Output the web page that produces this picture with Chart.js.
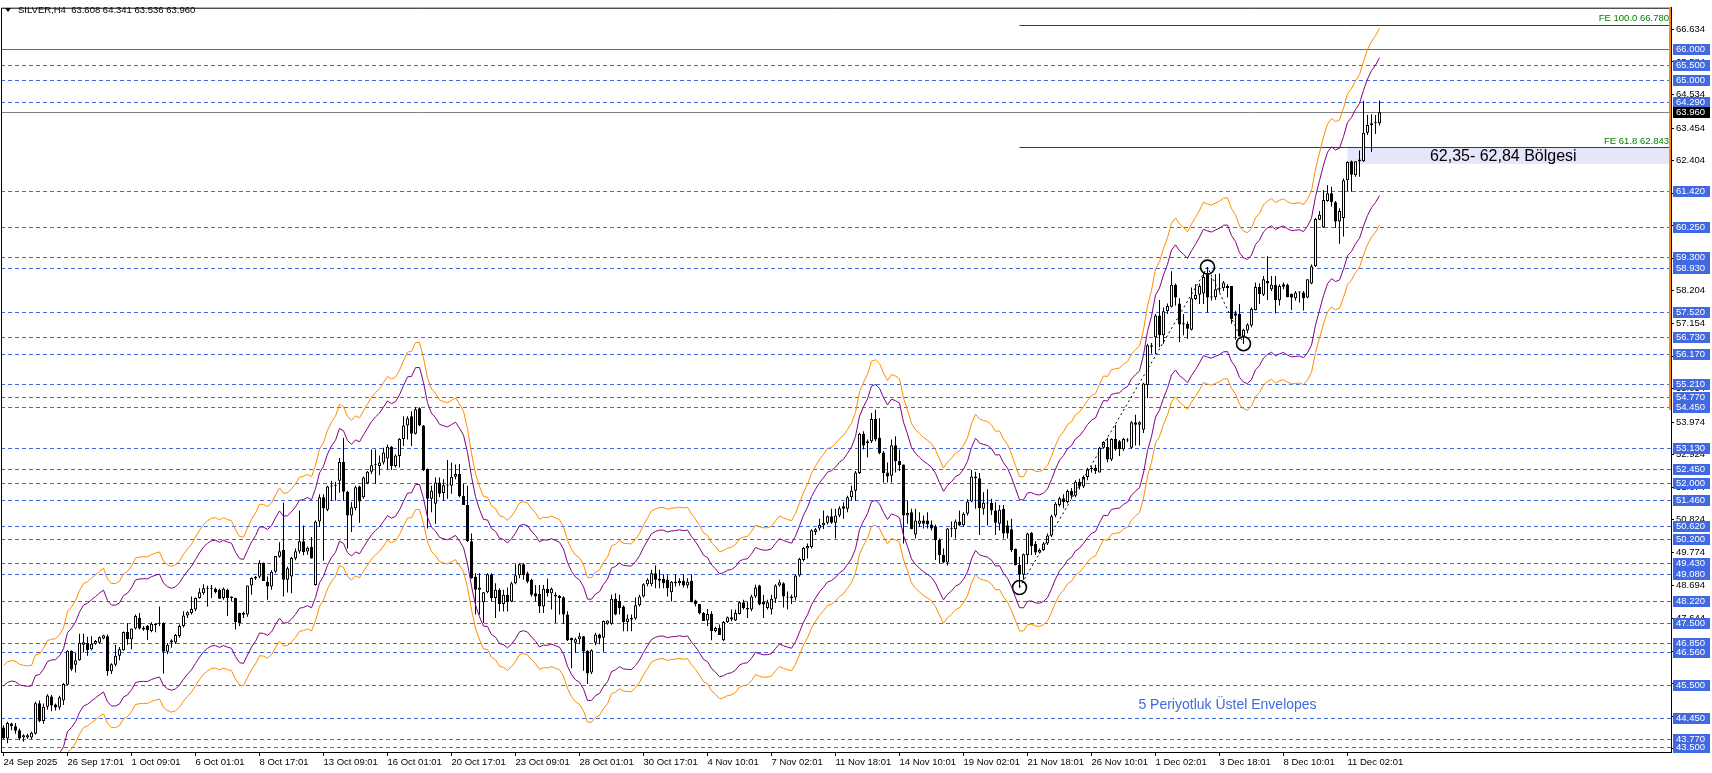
<!DOCTYPE html>
<html>
<head>
<meta charset="utf-8">
<script src="https://cdn.jsdelivr.net/npm/chart.js@4.4.1/dist/chart.umd.min.js"></script>
<style>
  html, body { margin: 0; padding: 0; background: #fff; }
  canvas { display: block; }
</style>
</head>
<body>
<canvas id="silverChart" width="1712" height="773"></canvas>
<script>
// SILVER H4 candles, bar 0 = 24 Sep 2025
const opens = [
  44.13, 43.77, 44.26, 44.17, 44.04, 43.81, 43.81, 43.81, 43.93, 44.91,
  44.34, 44.80, 45.13, 44.87, 44.77, 45.00, 45.51, 46.60, 46.15, 46.30,
  46.80, 46.86, 46.65, 46.83, 46.86, 47.00, 47.07, 45.94, 46.15, 46.44,
  46.62, 47.21, 46.97, 47.32, 47.66, 47.35, 47.40, 47.24, 47.43, 47.47,
  47.50, 46.57, 46.94, 46.87, 47.08, 47.40, 47.74, 47.82, 47.93, 48.30,
  48.46, 48.62, 48.60, 48.60, 48.56, 48.30, 48.56, 48.35, 48.30, 47.82,
  47.76, 47.77, 48.71, 48.93, 48.99, 49.44, 48.83, 48.67, 49.15, 49.63,
  49.85, 48.89, 49.00, 49.58, 49.80, 50.13, 49.80, 49.95, 48.72, 50.77,
  51.55, 51.15, 51.90, 51.92, 52.08, 52.69, 51.73, 50.96, 51.20, 51.90,
  51.55, 52.00, 52.37, 52.58, 52.56, 52.67, 52.80, 53.18, 52.56, 52.88,
  53.43, 53.86, 54.16, 53.60, 54.42, 53.86, 52.47, 51.50, 51.34, 52.03,
  51.69, 51.94, 51.92, 52.21, 52.30, 51.60, 51.30, 50.13, 48.99, 48.57,
  48.17, 48.49, 49.07, 48.30, 48.57, 48.11, 48.41, 48.19, 48.78, 49.04,
  49.39, 49.10, 48.89, 48.46, 48.43, 48.03, 48.60, 48.46, 48.41, 48.37,
  48.33, 47.77, 47.02, 46.86, 46.97, 47.07, 46.60, 45.90, 46.86, 47.13,
  47.02, 47.47, 47.47, 48.28, 48.21, 48.03, 47.53, 47.61, 47.64, 48.07,
  48.35, 48.75, 48.75, 49.10, 48.92, 48.92, 48.89, 48.49, 48.83, 48.78,
  48.86, 48.71, 48.86, 48.22, 48.11, 47.82, 47.58, 47.79, 47.24, 47.34,
  46.94, 47.53, 47.68, 47.58, 47.79, 48.17, 47.98, 47.93, 48.35, 48.71,
  48.19, 47.98, 47.93, 48.28, 48.71, 48.78, 48.35, 48.35, 48.32, 49.03,
  49.53, 49.90, 49.95, 50.43, 50.54, 50.65, 50.73, 50.94, 50.73, 50.96,
  51.26, 51.18, 51.55, 51.76, 52.33, 53.60, 53.30, 53.36, 54.07, 53.47,
  52.99, 52.35, 52.24, 53.23, 52.72, 52.61, 50.96, 51.07, 50.35, 50.70,
  50.80, 50.80, 50.67, 50.62, 50.17, 49.69, 49.45, 50.54, 50.52, 50.77,
  50.65, 51.02, 51.41, 52.16, 52.16, 51.18, 51.37, 51.37, 51.12, 50.70,
  51.18, 50.65, 50.52, 49.88, 49.37, 49.05, 49.69, 50.41, 50.05, 49.77,
  49.85, 50.06, 50.32, 50.96, 51.30, 51.52, 51.40, 51.75, 51.60, 52.05,
  51.90, 52.20, 52.45, 52.50, 52.35, 53.15, 53.17, 52.77, 53.43, 53.36,
  53.10, 53.38, 53.15, 53.97, 53.89, 53.73, 55.17, 56.45, 56.71, 57.41,
  56.77, 57.55, 57.69, 58.40, 57.80, 57.12, 57.14, 56.95, 57.94, 58.08,
  58.12, 58.74, 57.99, 58.00, 58.26, 58.29, 58.36, 58.36, 57.48, 57.46,
  56.73, 56.93, 57.09, 57.59, 58.33, 58.08, 58.52, 58.26, 58.40, 57.90,
  58.42, 58.40, 58.10, 57.97, 58.15, 58.15, 57.99, 58.44, 59.00, 60.50,
  60.25, 61.10, 61.35, 61.06, 60.44, 60.55, 61.77, 62.38, 61.93, 62.38,
  62.38, 63.30, 63.55, 63.61, 63.608
];
const highs = [
  44.20, 44.31, 44.28, 44.27, 44.10, 43.91, 43.93, 43.99, 44.96, 45.00,
  44.90, 45.20, 45.18, 44.90, 45.15, 45.56, 46.62, 46.62, 46.55, 47.15,
  47.15, 47.05, 47.07, 46.95, 47.07, 47.12, 47.13, 46.20, 46.80, 46.72,
  47.22, 47.50, 47.32, 47.77, 47.82, 47.40, 47.43, 47.52, 47.50, 48.03,
  47.52, 46.85, 46.97, 47.14, 47.45, 47.88, 47.88, 48.35, 48.32, 48.62,
  48.75, 48.70, 48.72, 48.64, 48.60, 48.64, 48.60, 48.36, 48.31, 47.83,
  47.86, 48.71, 48.97, 49.01, 49.52, 49.45, 49.00, 49.20, 49.66, 50.10,
  51.37, 49.31, 49.63, 49.90, 51.12, 50.64, 49.96, 50.27, 50.80, 51.65,
  51.65, 51.92, 52.08, 52.05, 52.82, 53.47, 51.76, 51.39, 51.92, 51.92,
  52.22, 52.40, 53.09, 53.09, 52.90, 53.15, 53.25, 53.20, 52.94, 53.46,
  54.16, 54.16, 54.32, 54.45, 54.45, 53.88, 52.48, 51.92, 52.19, 52.19,
  52.13, 52.75, 52.67, 52.61, 52.62, 51.98, 51.92, 50.38, 49.10, 49.10,
  48.50, 49.10, 49.10, 48.78, 48.62, 48.57, 48.64, 48.83, 49.39, 49.42,
  49.42, 49.15, 48.92, 48.72, 48.72, 48.72, 48.92, 48.64, 48.49, 48.40,
  48.36, 47.88, 47.02, 47.02, 47.18, 47.08, 46.62, 46.65, 47.18, 47.15,
  47.58, 47.58, 48.41, 48.46, 48.41, 48.06, 47.77, 47.77, 48.32, 48.41,
  48.78, 48.94, 49.21, 49.35, 49.21, 49.07, 49.04, 48.85, 49.07, 48.94,
  49.07, 48.94, 49.07, 48.25, 48.11, 47.85, 47.95, 47.88, 47.38, 47.45,
  47.56, 47.71, 47.93, 47.93, 48.19, 48.25, 48.19, 48.41, 48.73, 48.73,
  48.41, 48.25, 48.41, 48.75, 48.89, 48.81, 48.51, 48.41, 49.07, 49.60,
  49.95, 50.06, 50.52, 50.56, 50.86, 51.12, 50.96, 51.18, 51.18, 51.26,
  51.39, 51.60, 51.92, 52.40, 53.63, 53.68, 53.41, 54.27, 54.37, 54.10,
  53.04, 52.67, 53.41, 53.52, 53.09, 52.61, 51.44, 51.18, 51.18, 51.07,
  50.96, 51.07, 50.80, 50.67, 50.22, 49.90, 50.56, 50.77, 50.83, 51.12,
  51.07, 51.49, 52.43, 52.37, 52.33, 51.71, 51.81, 51.50, 51.39, 51.30,
  51.30, 50.80, 50.86, 49.90, 49.63, 49.74, 50.41, 50.43, 50.13, 49.90,
  50.11, 50.38, 50.99, 51.39, 51.57, 51.65, 51.80, 51.85, 52.10, 52.15,
  52.25, 52.50, 52.55, 52.60, 53.18, 53.36, 53.47, 53.45, 53.89, 53.40,
  53.47, 53.45, 54.00, 54.21, 54.00, 55.24, 56.50, 56.52, 57.46, 57.91,
  57.67, 57.80, 58.84, 58.44, 57.97, 57.46, 57.22, 58.31, 58.42, 58.44,
  58.79, 58.97, 58.63, 58.74, 58.76, 58.52, 58.42, 58.36, 57.56, 57.78,
  56.98, 57.16, 57.67, 58.47, 58.44, 58.68, 59.32, 58.68, 58.68, 58.42,
  58.47, 58.44, 58.12, 58.20, 58.18, 58.20, 58.58, 59.05, 60.55, 60.78,
  61.45, 61.61, 61.56, 61.10, 60.87, 61.83, 62.38, 62.41, 62.38, 62.73,
  64.33, 63.87, 63.90, 63.87, 64.341
];
const lows = [
  43.74, 43.62, 44.04, 43.93, 43.72, 43.67, 43.76, 43.75, 43.90, 44.30,
  44.25, 44.70, 44.65, 44.68, 44.70, 44.85, 45.50, 45.95, 45.90, 46.28,
  46.55, 46.44, 46.62, 46.80, 46.83, 46.97, 45.80, 45.85, 46.10, 46.30,
  46.60, 46.80, 46.65, 47.29, 47.29, 47.25, 46.95, 47.20, 47.20, 47.40,
  45.87, 46.50, 46.70, 46.82, 47.02, 47.35, 47.66, 47.77, 47.88, 48.28,
  48.41, 48.03, 48.30, 48.45, 48.28, 48.25, 47.72, 48.19, 47.29, 47.40,
  47.66, 47.70, 48.41, 48.88, 48.94, 48.85, 48.25, 48.57, 49.10, 49.60,
  48.35, 48.48, 48.46, 49.52, 49.74, 49.68, 49.70, 49.58, 48.70, 50.60,
  49.50, 51.10, 51.44, 51.44, 51.70, 51.44, 49.90, 50.43, 51.12, 50.73,
  51.50, 51.97, 52.30, 51.98, 52.26, 52.61, 52.45, 52.43, 52.51, 52.51,
  53.20, 53.41, 53.20, 53.57, 53.84, 52.40, 50.54, 51.07, 50.70, 51.55,
  51.44, 51.50, 51.66, 52.13, 51.55, 51.30, 50.11, 48.92, 47.77, 47.77,
  47.50, 48.46, 48.19, 47.66, 47.87, 47.87, 47.87, 48.17, 48.75, 48.94,
  48.89, 48.78, 48.35, 48.19, 47.82, 47.82, 48.35, 47.93, 47.50, 47.77,
  47.47, 46.92, 46.04, 46.54, 46.81, 45.96, 45.53, 45.85, 46.78, 46.81,
  46.57, 47.44, 47.44, 47.75, 47.77, 47.23, 47.23, 47.23, 47.60, 48.03,
  48.32, 48.68, 48.68, 48.62, 48.62, 48.62, 48.35, 48.19, 48.67, 48.70,
  48.64, 48.62, 48.17, 48.03, 47.77, 47.56, 47.40, 46.94, 47.20, 47.11,
  46.92, 47.50, 47.55, 47.56, 47.77, 47.93, 47.66, 47.88, 48.30, 48.07,
  47.66, 47.93, 47.77, 48.14, 48.67, 48.00, 47.93, 48.11, 48.22, 48.99,
  49.48, 49.58, 49.90, 50.33, 50.48, 50.53, 50.67, 50.70, 50.22, 50.91,
  50.86, 51.07, 51.44, 51.44, 52.30, 53.09, 52.83, 53.30, 53.36, 52.94,
  52.03, 52.03, 52.03, 52.35, 52.40, 50.06, 50.70, 50.52, 50.22, 50.59,
  50.54, 50.54, 50.48, 49.53, 49.42, 49.42, 49.35, 50.27, 50.22, 50.62,
  50.59, 50.96, 51.39, 51.18, 50.33, 50.99, 50.64, 50.98, 50.33, 50.48,
  50.22, 50.22, 49.79, 49.35, 48.64, 48.89, 49.39, 49.69, 49.69, 49.74,
  49.82, 50.01, 50.27, 50.91, 51.25, 51.20, 51.35, 51.50, 51.55, 51.80,
  51.85, 52.10, 52.35, 52.30, 52.35, 53.12, 52.68, 52.72, 53.05, 52.88,
  53.05, 53.33, 53.11, 53.22, 53.22, 53.62, 54.74, 56.18, 56.16, 56.39,
  56.50, 57.46, 57.67, 57.73, 56.55, 56.77, 56.66, 56.93, 57.91, 57.78,
  57.78, 57.51, 57.89, 57.91, 58.15, 58.20, 58.00, 57.14, 56.63, 56.73,
  56.50, 56.84, 57.03, 57.57, 57.78, 58.04, 57.91, 58.20, 57.48, 57.73,
  58.26, 58.00, 57.59, 57.89, 57.83, 57.57, 57.97, 58.42, 58.97, 60.49,
  60.23, 61.08, 60.92, 60.23, 59.72, 59.96, 61.42, 61.40, 61.88, 61.88,
  62.36, 63.23, 62.68, 63.26, 63.536
];
const closes = [
  43.78, 44.27, 44.17, 44.02, 43.77, 43.88, 43.88, 43.96, 44.91, 44.34,
  44.80, 45.16, 44.84, 44.77, 45.10, 45.53, 46.60, 46.00, 46.30, 46.86,
  46.88, 46.62, 46.83, 46.92, 47.04, 47.10, 45.94, 46.17, 46.44, 46.65,
  47.21, 46.97, 47.32, 47.72, 47.32, 47.29, 47.26, 47.47, 47.47, 47.49,
  46.57, 46.80, 46.87, 47.11, 47.40, 47.74, 47.84, 47.95, 48.30, 48.49,
  48.62, 48.60, 48.62, 48.49, 48.28, 48.60, 48.30, 48.30, 47.53, 47.50,
  47.82, 48.71, 48.95, 48.99, 49.44, 48.85, 48.67, 49.15, 49.66, 49.81,
  48.89, 49.26, 49.60, 49.81, 50.13, 49.79, 49.92, 49.58, 50.77, 51.55,
  51.20, 51.90, 51.92, 51.93, 52.69, 51.73, 50.96, 51.23, 51.87, 51.41,
  52.19, 52.37, 52.58, 52.60, 52.67, 52.99, 53.18, 52.56, 52.90, 53.43,
  53.86, 54.10, 53.60, 54.39, 53.86, 52.43, 51.50, 51.76, 52.03, 51.66,
  51.94, 51.93, 52.21, 52.30, 51.58, 51.30, 50.13, 48.94, 48.57, 48.64,
  48.49, 49.07, 48.30, 48.57, 48.11, 48.41, 48.17, 48.78, 49.04, 49.39,
  49.04, 48.83, 48.41, 48.35, 48.03, 48.60, 48.46, 48.60, 48.35, 48.30,
  47.77, 46.94, 46.94, 46.97, 47.07, 46.58, 45.87, 46.62, 47.13, 47.00,
  47.56, 47.58, 48.28, 47.77, 47.98, 47.53, 47.64, 47.66, 48.07, 48.35,
  48.75, 48.89, 49.10, 48.89, 48.86, 48.78, 48.62, 48.83, 48.78, 48.85,
  48.71, 48.83, 48.17, 48.11, 47.82, 47.56, 47.79, 47.24, 47.34, 47.11,
  47.53, 47.68, 47.61, 47.82, 48.17, 47.98, 47.93, 48.35, 48.64, 48.09,
  48.09, 48.17, 48.28, 48.71, 48.81, 48.35, 48.32, 48.30, 49.03, 49.56,
  49.92, 49.98, 50.49, 50.52, 50.66, 50.73, 50.94, 50.73, 50.96, 51.20,
  51.18, 51.55, 51.76, 52.35, 53.60, 53.22, 53.36, 54.07, 53.41, 52.97,
  52.33, 52.22, 53.23, 52.72, 52.58, 50.96, 51.04, 50.53, 50.80, 50.80,
  50.70, 50.67, 50.54, 50.17, 49.69, 49.45, 50.54, 50.52, 50.77, 50.65,
  51.02, 51.41, 52.22, 52.22, 51.20, 51.37, 51.35, 51.12, 50.73, 51.15,
  50.38, 50.38, 49.85, 49.37, 49.05, 49.71, 50.38, 49.98, 49.77, 49.85,
  50.06, 50.32, 50.94, 51.34, 51.52, 51.40, 51.75, 51.60, 52.05, 51.90,
  52.20, 52.45, 52.50, 52.40, 53.15, 53.33, 52.77, 53.43, 53.10, 53.10,
  53.43, 53.40, 53.97, 53.89, 53.97, 55.22, 56.45, 56.40, 57.41, 56.77,
  57.55, 57.72, 58.40, 57.99, 57.12, 57.16, 56.98, 57.97, 58.08, 58.36,
  58.65, 57.99, 58.00, 58.26, 58.29, 58.47, 58.30, 57.30, 57.40, 56.73,
  56.95, 57.12, 57.62, 58.33, 58.10, 58.58, 58.44, 58.40, 57.90, 58.36,
  58.34, 58.00, 57.99, 58.15, 58.17, 57.97, 58.58, 59.00, 60.52, 60.66,
  61.13, 61.35, 61.06, 60.44, 60.78, 61.77, 62.36, 61.95, 62.38, 62.44,
  63.30, 63.55, 63.61, 63.61, 63.960
];

// time axis: one label every 16 bars
const timeLabels = [
  "24 Sep 2025", "26 Sep 17:01", "1 Oct 09:01", "6 Oct 01:01", "8 Oct 17:01",
  "13 Oct 09:01", "16 Oct 01:01", "20 Oct 17:01", "23 Oct 09:01", "28 Oct 01:01",
  "30 Oct 17:01", "4 Nov 10:01", "7 Nov 02:01", "11 Nov 18:01", "14 Nov 10:01",
  "19 Nov 02:01", "21 Nov 18:01", "26 Nov 10:01", "1 Dec 02:01", "3 Dec 18:01",
  "8 Dec 10:01", "11 Dec 02:01"
];
const timeLabelStep = 16;

const priceTicks = [
  66.634, 65.584, 64.534, 63.454, 62.404, 61.354, 60.304, 59.254, 58.204, 57.154,
  56.104, 55.054, 53.974, 52.924, 51.874, 50.824, 49.774, 48.694, 47.644, 46.594,
  45.544, 44.494, 43.444
];

// horizontal levels
const dashedLevels = [
  65.50, 65.00, 64.29, 61.42, 60.25, 59.30, 58.93, 57.52, 56.73, 56.17,
  55.21, 54.77, 54.45, 53.13, 52.45, 52.00, 51.46, 50.62, 50.20, 49.43,
  49.08, 48.22, 47.50, 46.85, 46.56, 45.50, 44.45, 43.77, 43.50
];
const solidLevel = 66.00;
const lastPrice = 63.960;
const feLabels = ["FE 100.0 66.780", "FE 61.8 62.843"];
const feValues = [66.780, 62.843];
const feBars = [254, 301, 310];
const fePrices = [48.64, 58.97, 56.50];
const zoneTop = 62.84;
const zoneBottom = 62.30;
const zoneStartBar = 336;

// envelopes: EMA(5) of close, +-3.5% and +-5%
const envPeriod = 5;
const envInner = 3.5;
const envOuter = 5.0;
const emaSeed = 44.0;

const levelBlue = "#4169e1";
const feGreen = "#006400";
const axisFont = "9.5px 'Liberation Sans', Arial, sans-serif";

const idx = closes.map((_, i) => i);
const bodies = idx.map(i => ({ x: i, y: [opens[i], closes[i]] }));
const wicks = idx.map(i => ({ x: i, y: [lows[i], highs[i]] }));
const bodyFill = idx.map(i => (closes[i] >= opens[i] ? "#ffffff" : "#000000"));

const ema = [];
closes.reduce((prev, c) => {
  const v = prev + (c - prev) * 2 / (envPeriod + 1);
  ema.push(v);
  return v;
}, emaSeed);
const band = pct => ema.map((v, i) => ({ x: i, y: v * (1 + pct / 100) }));

const envLine = (data, color) => ({
  type: "line",
  data: data,
  borderColor: color,
  borderWidth: 1,
  pointRadius: 0,
  fill: false,
  tension: 0,
});

const mtObjects = {
  id: "mtObjects",
  beforeDatasetsDraw(chart) {
    const { ctx, chartArea: a, scales: { x, y } } = chart;
    ctx.save();
    ctx.beginPath();
    ctx.rect(a.left, a.top, a.right - a.left, a.bottom - a.top);
    ctx.clip();

    // zone box
    const zx = x.getPixelForValue(zoneStartBar);
    const zt = y.getPixelForValue(zoneTop);
    const zb = y.getPixelForValue(zoneBottom);
    ctx.fillStyle = "#e6e6fa";
    ctx.fillRect(zx, zt, a.right - zx, zb - zt);

    const hline = (v, color, dash, from) => {
      const py = Math.round(y.getPixelForValue(v)) + 0.5;
      ctx.strokeStyle = color;
      ctx.lineWidth = 1;
      ctx.setLineDash(dash);
      ctx.beginPath();
      ctx.moveTo(from, py);
      ctx.lineTo(a.right, py);
      ctx.stroke();
    };
    dashedLevels.forEach(v => hline(v, levelBlue, [4, 3], a.left));
    hline(solidLevel, levelBlue, [], a.left);
    hline(lastPrice, "#808080", [], a.left);
    const fx = x.getPixelForValue(feBars[0]);
    feValues.forEach(v => hline(v, feGreen, [], fx));
    ctx.restore();
  },
  afterDatasetsDraw(chart) {
    const { ctx, chartArea: a, scales: { x, y } } = chart;
    ctx.save();
    ctx.textBaseline = "middle";

    // FE labels
    ctx.font = axisFont;
    ctx.fillStyle = "#008000";
    ctx.textAlign = "right";
    feValues.forEach((v, k) => {
      ctx.fillText(feLabels[k], a.right - 2, y.getPixelForValue(v) - 6);
    });

    ctx.textAlign = "left";
    ctx.fillStyle = "#000";
    ctx.font = "16px 'Liberation Sans', Arial, sans-serif";
    ctx.fillText("62,35- 62,84 Bölgesi", x.getPixelForValue(356.6), y.getPixelForValue((zoneTop + zoneBottom) / 2) + 1);

    ctx.textAlign = "center";
    ctx.fillStyle = levelBlue;
    ctx.font = "14px 'Liberation Sans', Arial, sans-serif";
    ctx.fillText("5 Periyotluk Üstel Envelopes", x.getPixelForValue(306), y.getPixelForValue(44.84));
    ctx.restore();
  },
  afterDraw(chart) {
    const { ctx, chartArea: a, scales: { y } } = chart;
    ctx.save();
    // frame
    ctx.strokeStyle = "#000";
    ctx.lineWidth = 1;
    ctx.beginPath();
    ctx.moveTo(a.left + 0.5, a.bottom);
    ctx.lineTo(a.left + 0.5, a.top + 0.5);
    ctx.lineTo(a.right, a.top + 0.5);
    ctx.stroke();

    // orange marker at the price scale
    ctx.strokeStyle = "#ff8c00";
    ctx.lineWidth = 2;
    ctx.beginPath();
    ctx.moveTo(a.right - 1, a.top);
    ctx.lineTo(a.right - 1, 410);
    ctx.stroke();

    // price boxes
    ctx.font = axisFont;
    ctx.textBaseline = "middle";
    ctx.textAlign = "left";
    const box = (v, fill) => {
      const py = Math.round(y.getPixelForValue(v));
      ctx.fillStyle = fill;
      ctx.fillRect(a.right + 2, py - 5, 37, 11);
      ctx.fillStyle = "#fff";
      ctx.fillText(v.toFixed(3), a.right + 5, py + 0.5);
    };
    [solidLevel].concat(dashedLevels).forEach(v => box(v, levelBlue));
    box(lastPrice, "#000");

    // header
    ctx.fillStyle = "#000";
    ctx.beginPath();
    ctx.moveTo(5, 8);
    ctx.lineTo(11, 8);
    ctx.lineTo(8, 12);
    ctx.closePath();
    ctx.fill();
    ctx.fillText("SILVER,H4  63.608 64.341 63.536 63.960", 18, 10.5);
    ctx.restore();
  },
};

Chart.defaults.font.family = "'Liberation Sans', Arial, sans-serif";

let silverChart = new Chart(document.getElementById("silverChart").getContext("2d"), {
  type: "bar",
  data: {
    datasets: [
      envLine(band(envOuter), "#ff8c00"),
      envLine(band(-envOuter), "#ff8c00"),
      envLine(band(envInner), "#800080"),
      envLine(band(-envInner), "#800080"),
      {
        type: "line",
        data: feBars.map((b, k) => ({ x: b, y: fePrices[k] })),
        borderColor: "#000",
        borderWidth: 1,
        borderDash: [2, 3],
        pointRadius: 0,
        fill: false,
      },
      {
        type: "line",
        data: feBars.map((b, k) => ({ x: b, y: fePrices[k] })),
        showLine: false,
        pointRadius: 7,
        pointBorderWidth: 1.6,
        pointBorderColor: "#000",
        pointBackgroundColor: "rgba(0,0,0,0)",
      },
      {
        data: bodies,
        backgroundColor: bodyFill,
        borderColor: "#000",
        borderWidth: 1,
        borderSkipped: false,
        barThickness: 3,
        minBarLength: 1,
        inflateAmount: 0,
        grouped: false,
      },
      {
        data: wicks,
        backgroundColor: "#000",
        borderWidth: 0,
        barThickness: 1,
        inflateAmount: 0,
        grouped: false,
      },
    ],
  },
  options: {
    responsive: false,
    animation: false,
    devicePixelRatio: 1,
    layout: { autoPadding: false, padding: { left: 1, top: 1, right: 0, bottom: 0 } },
    scales: {
      x: {
        type: "linear",
        min: -0.625,
        max: 416.875,
        offset: false,
        grid: { drawOnChartArea: false, drawTicks: true, tickLength: 4, color: "#000", offset: false },
        border: { display: true, color: "#000" },
        ticks: {
          autoSkip: false,
          maxRotation: 0,
          minRotation: 0,
          align: "start",
          padding: 1,
          color: "#000",
          font: { size: 9.5 },
          callback: v => timeLabels[v / timeLabelStep] || "",
        },
        afterBuildTicks: s => {
          s.ticks = timeLabels.map((_, k) => ({ value: k * timeLabelStep }));
        },
        afterFit: s => {
          s.height = 21;
        },
      },
      y: {
        type: "linear",
        position: "right",
        min: 43.3387,
        max: 67.3323,
        grid: { drawOnChartArea: false, drawTicks: true, tickLength: 3, color: "#000" },
        border: { display: true, color: "#000" },
        ticks: {
          autoSkip: false,
          padding: 2,
          color: "#000",
          font: { size: 9.5 },
          callback: v => v.toFixed(3),
        },
        afterBuildTicks: s => {
          s.ticks = priceTicks.map(v => ({ value: v }));
        },
        afterFit: s => {
          s.width = 41;
        },
      },
    },
    plugins: {
      legend: { display: false },
      tooltip: { enabled: false },
    },
  },
  plugins: [mtObjects],
});
</script>
</body>
</html>
